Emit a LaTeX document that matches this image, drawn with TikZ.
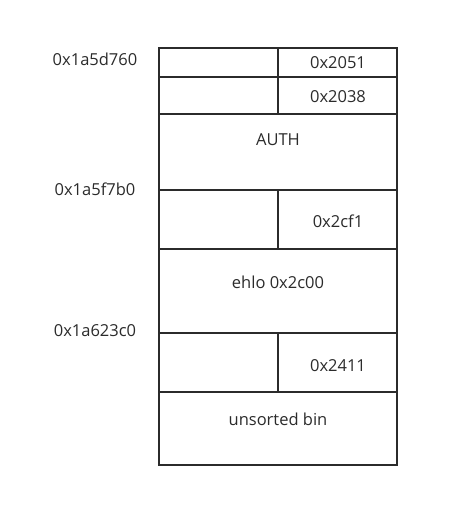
\documentclass[tikz,border=0pt]{standalone}
\usepackage{fontspec}
\setmainfont{Open Sans}
\definecolor{ink}{HTML}{2B2B2B}
\begin{document}
\begin{tikzpicture}[x=1pt,y=-1pt,
  cell/.style={draw=ink,line width=1.6pt},
  txt/.style={text=ink,font=\fontsize{16.5}{18}\selectfont,inner sep=0pt,anchor=base},
  addr/.style={text=ink,font=\fontsize{16.5}{18}\selectfont,inner sep=0pt,anchor=base}]
\useasboundingbox (0,0) rectangle (459,527);
% rows
\draw[cell] (159,48) rectangle (397,465);
\foreach \y in {77,114,190,249,333,392} \draw[cell] (159,\y) -- (397,\y);
\draw[cell] (278,48) -- (278,114);
\draw[cell] (278,190) -- (278,249);
\draw[cell] (278,333) -- (278,392);
% texts
\node[txt] (a) at (338,69) {0x2051};
\node[txt] (b) at (338,102) {0x2038};
\node[txt] (c) at (278,145) {AUTH};
\node[txt] (d) at (338,227) {0x2cf1};
\node[txt] (e) at (278,288) {ehlo 0x2c00};
\node[txt] (f) at (338,371) {0x2411};
\node[txt] (g) at (278,425) {unsorted bin};
\node[addr] (l1) at (95,66) {0x1a5d760};
\node[addr] (l2) at (95,195) {0x1a5f7b0};
\node[addr] (l3) at (95,336) {0x1a623c0};
\end{tikzpicture}
\end{document}
